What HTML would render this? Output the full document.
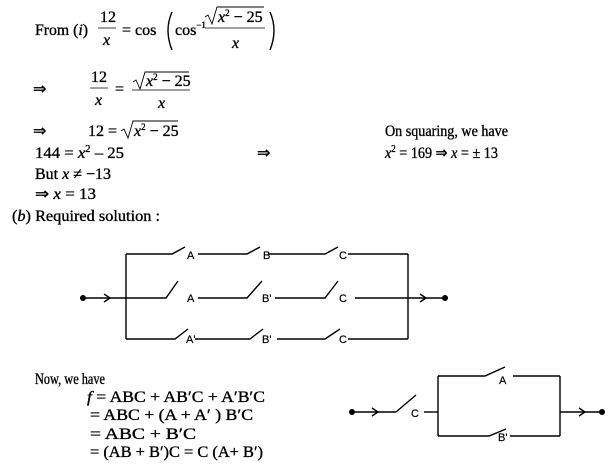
<!DOCTYPE html>
<html><head><meta charset="utf-8"><style>
html,body{margin:0;padding:0;background:#fff;}
svg{display:block;}
.t{font-family:"Liberation Serif",serif;font-size:16px;fill:#000;stroke:#000;stroke-width:0.35;}
.i{font-style:italic;}
.s{font-family:"Liberation Sans",sans-serif;font-size:11px;fill:#000;stroke:#000;stroke-width:0.2;}
line,path,polyline{stroke:#000;stroke-width:1.4;fill:none;}
</style></head><body>
<svg width="612" height="471" viewBox="0 0 612 471" xmlns="http://www.w3.org/2000/svg">
<text class="t" x="35" y="35" textLength="53" lengthAdjust="spacingAndGlyphs">From (<tspan class="i">i</tspan>)</text>
<text class="t" x="100" y="22">12</text>
<line x1="98" y1="28" x2="116" y2="28" style="stroke-width:0.8"/>
<text class="t i" x="103" y="45">x</text>
<text class="t" x="122" y="35">= cos</text>
<path d="M172 12 Q164 30 172 50" />
<path d="M270 12 Q278 30 270 50" />
<text class="t" x="175" y="35">cos<tspan font-size="9" dy="-7">−1</tspan></text>
<path d="M205 17 L208 15 L212 24 L217 7 L264 7" style="stroke-width:0.9"/>
<text class="t" x="218" y="22"><tspan class="i">x</tspan><tspan font-size="9" dy="-6">2</tspan><tspan dy="6"> − 25</tspan></text>
<line x1="205" y1="28" x2="265" y2="28" style="stroke-width:0.8"/>
<text class="t i" x="232" y="48">x</text>
<text class="t" x="33" y="94">⇒</text>
<text class="t" x="91" y="82">12</text>
<line x1="90" y1="88" x2="108" y2="88" style="stroke-width:0.8"/>
<text class="t i" x="95" y="105">x</text>
<text class="t" x="115" y="94">=</text>
<path d="M133 82 L136 80 L140 89 L145 72 L189 72" style="stroke-width:0.9"/>
<text class="t" x="146" y="86"><tspan class="i">x</tspan><tspan font-size="9" dy="-6">2</tspan><tspan dy="6"> − 25</tspan></text>
<line x1="132" y1="90" x2="190" y2="90" style="stroke-width:0.8"/>
<text class="t i" x="158" y="108">x</text>
<text class="t" x="33" y="136">⇒</text>
<text class="t" x="88" y="136">12 =</text>
<path d="M121 131 L124 129 L128 138 L133 121 L178 121" style="stroke-width:0.9"/>
<text class="t" x="134" y="136"><tspan class="i">x</tspan><tspan font-size="9" dy="-6">2</tspan><tspan dy="6"> − 25</tspan></text>
<text class="t" x="385" y="136" font-size="17" textLength="123" lengthAdjust="spacingAndGlyphs">On squaring, we have</text>
<text class="t" x="35" y="158" textLength="89" lengthAdjust="spacingAndGlyphs">144 = <tspan class="i">x</tspan><tspan font-size="10" dy="-6">2</tspan><tspan dy="6"> – 25</tspan></text>
<text class="t" x="257" y="158">⇒</text>
<text class="t" x="385" y="158" font-size="17" textLength="113" lengthAdjust="spacingAndGlyphs"><tspan class="i">x</tspan><tspan font-size="10" dy="-6">2</tspan><tspan dy="6"> = 169 ⇒ </tspan><tspan class="i">x</tspan> = ±  13</text>
<text class="t" x="35" y="179" textLength="76" lengthAdjust="spacingAndGlyphs">But <tspan class="i">x</tspan> ≠ −13</text>
<text class="t" x="35" y="199" textLength="61" lengthAdjust="spacingAndGlyphs">⇒ <tspan class="i">x</tspan> = 13</text>
<text class="t" x="12" y="221" textLength="148" lengthAdjust="spacingAndGlyphs">(<tspan class="i">b</tspan>)  Required solution :</text>

<line x1="126" y1="254" x2="126" y2="339"/>
<line x1="408" y1="254" x2="408" y2="339"/>
<polyline points="126,254 172,254 185,247"/>
<text class="s" x="187" y="259">A</text>
<polyline points="198,254 247,254 260,247"/>
<text class="s" x="263" y="259">B</text>
<polyline points="268,254 325,254 338,247"/>
<text class="s" x="339" y="259">C</text>
<line x1="348" y1="254" x2="408" y2="254"/>
<polyline points="83,298 166,298 178,281"/>
<text class="s" x="187" y="302">A</text>
<polyline points="198,298 247,298 262,281"/>
<text class="s" x="262" y="302">B'</text>
<polyline points="275,298 325,298 338,281"/>
<text class="s" x="339" y="302">C</text>
<line x1="355" y1="298" x2="445" y2="298"/>
<polyline points="126,339 175,339 188,329"/>
<text class="s" x="186" y="343">A'</text>
<polyline points="195,339 250,339 263,329"/>
<text class="s" x="262" y="343">B'</text>
<polyline points="277,339 325,339 340,329"/>
<text class="s" x="339" y="343">C</text>
<line x1="348" y1="339" x2="408" y2="339"/>
<circle cx="83" cy="298" r="3" fill="#000"/>
<circle cx="445" cy="298" r="3" fill="#000"/>
<polyline points="104,294 110,298 104,302"/>
<polyline points="420,294 426,298 420,302"/>

<text class="t" x="35" y="384" font-size="17" textLength="70" lengthAdjust="spacingAndGlyphs">Now, we have</text>
<text class="t" x="87" y="402" textLength="178" lengthAdjust="spacingAndGlyphs"><tspan class="i">f</tspan> =  ABC + AB′C + A′B′C</text>
<text class="t" x="90" y="420" textLength="163" lengthAdjust="spacingAndGlyphs">=  ABC + (A + A′ ) B′C</text>
<text class="t" x="90" y="439" textLength="106" lengthAdjust="spacingAndGlyphs">=  ABC + B′C</text>
<text class="t" x="90" y="457" textLength="173" lengthAdjust="spacingAndGlyphs">=  (AB + B′)C = C (A+ B′)</text>

<line x1="352" y1="412" x2="396" y2="412"/>
<line x1="396" y1="412" x2="416" y2="395"/>
<text class="s" x="411" y="417">C</text>
<line x1="424" y1="412" x2="438" y2="412"/>
<line x1="438" y1="376" x2="438" y2="436"/>
<line x1="560" y1="376" x2="560" y2="436"/>
<polyline points="438,376 485,376 505,367"/>
<text class="s" x="499" y="384">A</text>
<line x1="513" y1="376" x2="560" y2="376"/>
<polyline points="438,436 489,436 506,429"/>
<text class="s" x="498" y="441">B'</text>
<line x1="510" y1="436" x2="560" y2="436"/>
<line x1="560" y1="412" x2="602" y2="412"/>
<circle cx="352" cy="412" r="3" fill="#000"/>
<circle cx="602" cy="412" r="3" fill="#000"/>
<polyline points="372,408 378,412 372,416"/>
<polyline points="579,408 585,412 579,416"/>
</svg>
</body></html>
